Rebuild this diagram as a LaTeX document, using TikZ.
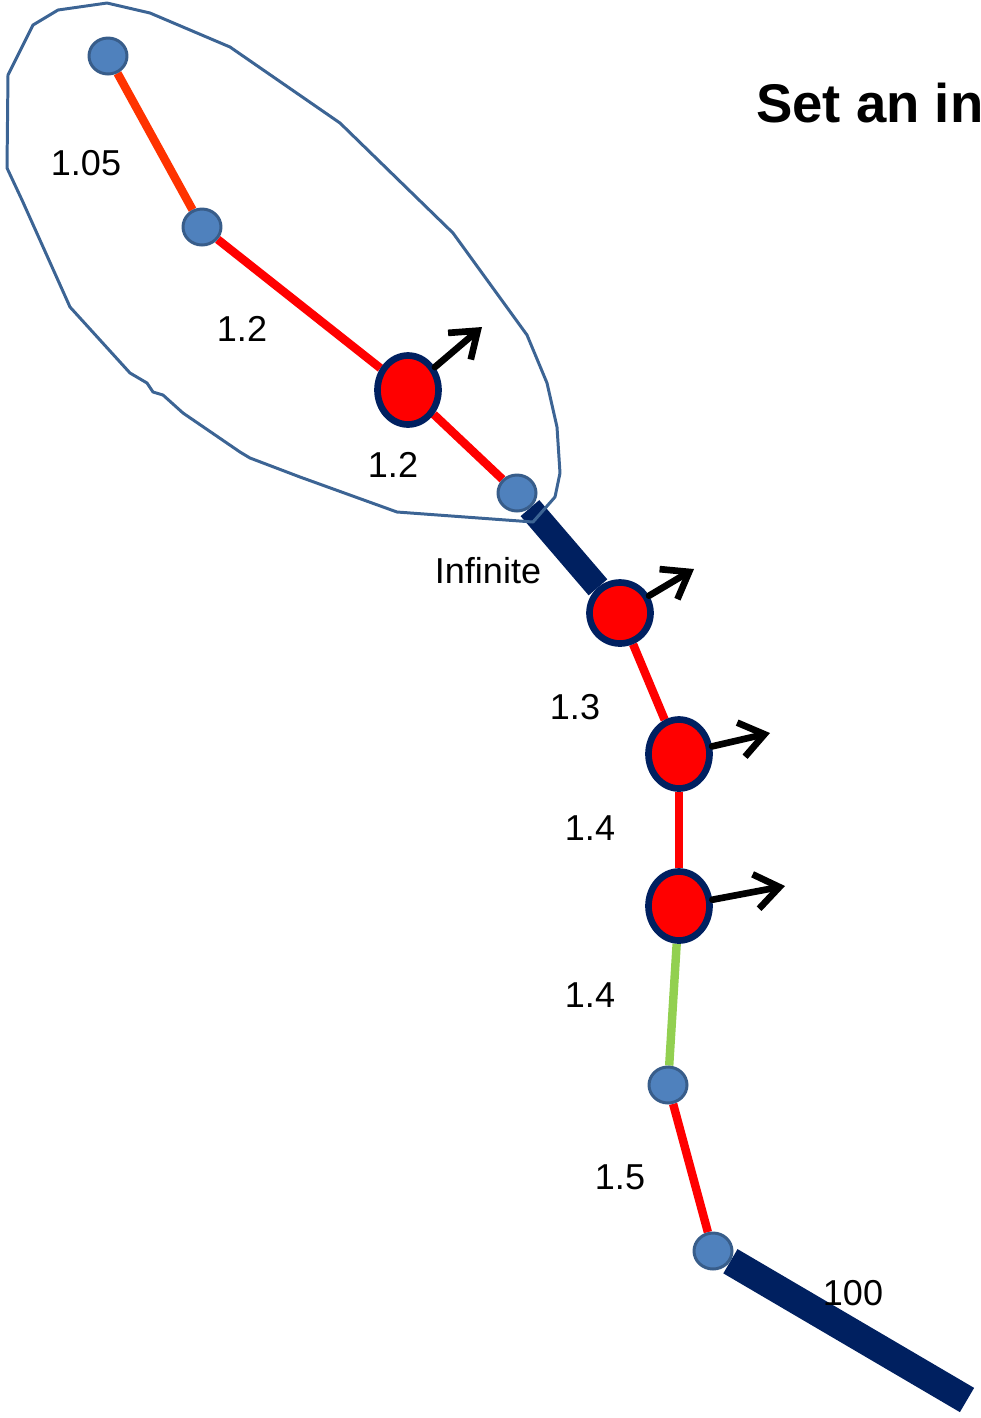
\documentclass[tikz,border=0pt]{standalone}
\usepackage{fontspec}
\setmainfont{Liberation Sans}
\usetikzlibrary{shapes.geometric,arrows.meta}
\pgfdeclarelayer{bg}
\pgfsetlayers{bg,main}

\definecolor{navy}{HTML}{002060}
\definecolor{jointblue}{HTML}{4F81BD}
\definecolor{jointedge}{HTML}{385D8A}
\definecolor{loopline}{HTML}{3C6494}
\definecolor{orangered}{HTML}{FF3300}
\definecolor{lightgreen}{HTML}{92D050}

\tikzset{
  joint/.style={ellipse, draw=jointedge, fill=jointblue, line width=1.7pt,
    minimum width=0.76cm, minimum height=0.72cm, inner sep=0pt},
  mover/.style={ellipse, draw=navy, fill=red, line width=3.8pt,
    minimum width=1.22cm, minimum height=1.38cm, inner sep=0pt},
  link/.style={line width=4.8pt, red},
  rigid/.style={line width=14pt, navy},
  push/.style={line width=3.8pt, line cap=round, line join=round,
    -{Straight Barb[length=0.48cm,width=0.7cm]}},
  weight/.style={font=\fontsize{20.5}{24}\selectfont, inner sep=0pt},
}

\begin{document}
\begin{tikzpicture}[x=0.02cm, y=-0.02cm]
        \useasboundingbox (0,0) rectangle (981,1418);
        \clip (0,0) rectangle (981,1418);

        % Title
        \node[anchor=base west, inner sep=0pt, font=\bfseries\fontsize{31}{37}\selectfont] (title) at (756,122) {Set an initial};

        % Joints
        \node[joint] (j1) at (108,56) {};
        \node[joint] (j2) at (202,227) {};
        \node[joint] (j3) at (517,493) {};
        \node[joint] (j4) at (668,1085) {};
        \node[joint] (j5) at (713,1251) {};
        \coordinate (tail) at (967,1400);

        % Moving joints
        \node[mover] (m1) at (408,390) {};
        \node[mover, minimum height=1.22cm] (m2) at (620,613) {};
        \node[mover] (m3) at (679,754) {};
        \node[mover] (m4) at (679,906) {};

        % Links
        \begin{pgfonlayer}{bg}
        \draw[link, orangered] (j1) -- (j2);
        \draw[link] (j2) -- (m1);
        \draw[link] (m1) -- (j3);
        \draw[rigid] (j3) -- (m2);
        \draw[link] (m2) -- (m3);
        \draw[link] (m3) -- (m4);
        \draw[link, lightgreen] (m4) -- (j4);
        \draw[link] (j4) -- (j5);
        \draw[rigid, line width=16pt] (j5) -- (tail);

        % Outline of the loop
        \draw[loopline, line width=1.7pt, line join=round]
          (33,25) -- (58,10) -- (107,3) -- (150,13) -- (230,47) -- (340,123)
          -- (453,233) -- (527,335) -- (547,383) -- (557,427) -- (560,473)
          -- (555,497) -- (533,522) -- (397,512) -- (300,477) -- (250,458)
          -- (240,452) -- (183,413) -- (163,395) -- (153,392) -- (147,383)
          -- (130,373) -- (70,307) -- (22,200) -- (7,168) -- (8,75) -- cycle;
        \end{pgfonlayer}

        % Arrows
        \coordinate (p1) at (482,327);
        \coordinate (p2) at (694,569);
        \coordinate (p3) at (770,733);
        \coordinate (p4) at (785,886);
        \draw[push] (m1) -- (p1);
        \draw[push] (m2) -- (p2);
        \draw[push] (m3) -- (p3);
        \draw[push] (m4) -- (p4);

        % Labels
        \node[weight] (w1) at (86,163) {1.05};
        \node[weight] (w2) at (242,329) {1.2};
        \node[weight] (w3) at (393,465) {1.2};
        \node[weight] (w4) at (488,571) {Infinite};
        \node[weight] (w5) at (575,707) {1.3};
        \node[weight] (w6) at (590,828) {1.4};
        \node[weight] (w7) at (590,995) {1.4};
        \node[weight] (w8) at (620,1177) {1.5};
        \node[weight] (w9) at (853,1293) {100};

    \end{tikzpicture}
\end{document}
